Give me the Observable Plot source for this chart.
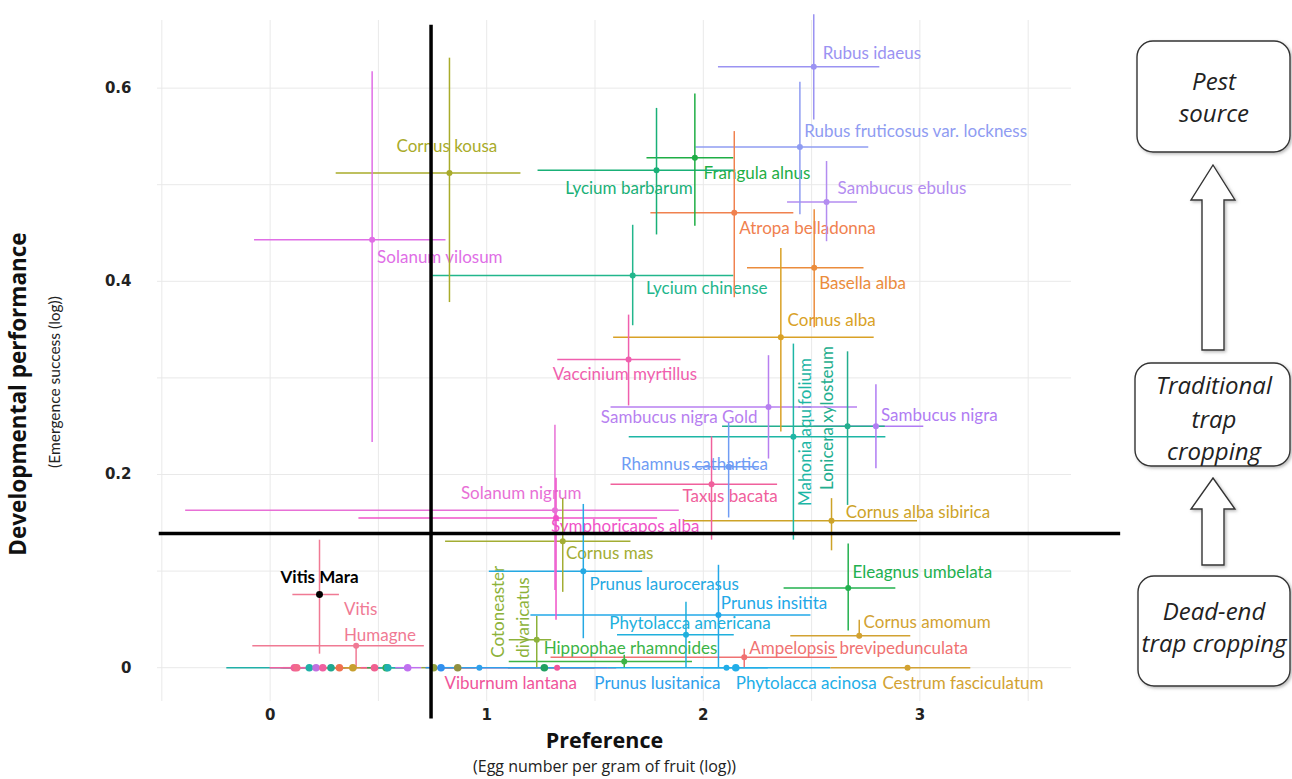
<!DOCTYPE html>
<html><head><meta charset="utf-8">
<script src="https://cdn.jsdelivr.net/npm/d3@7"></script>
<script src="https://cdn.jsdelivr.net/npm/@observablehq/plot@0.6"></script>
<style>
html,body{margin:0;padding:0;background:#fff;}
#wrap{position:relative;width:1292px;height:779px;overflow:hidden;}
#diagram{position:absolute;left:0;top:0;pointer-events:none;}
</style></head><body><div id="wrap"></div>
<script>
// ---------------- DATA ----------------
const species = [
  "Rubus idaeus","Rubus fruticosus var. lockness","Sambucus ebulus","Frangula alnus","Lycium barbarum",
  "Atropa belladonna","Basella alba","Lycium chinense","Cornus kousa","Solanum vilosum",
  "Cornus alba","Vaccinium myrtillus","Sambucus nigra Gold","Sambucus nigra","Lonicera xylosteum",
  "Mahonia aquifolium","Rhamnus cathartica","Taxus bacata","Solanum nigrum","Symphoricapos alba",
  "Cornus alba sibirica","Cornus mas","Eleagnus umbelata","Prunus laurocerasus","Cotoneaster divaricatus",
  "Prunus insitita","Phytolacca americana","Cornus amomum","Hippophae rhamnoides","Ampelopsis brevipedunculata",
  "Vitis Mara","Vitis Humagne","Viburnum lantana","Prunus lusitanica","Phytolacca acinosa","Cestrum fasciculatum"
];
// Preference (egg number per gram of fruit, log): mean, lower, upper
const prefMean = [2.51,2.446,2.569,1.961,1.784, 2.143,2.512,1.674,0.828,0.471, 2.358,1.655,2.301,2.797,2.666, 2.416,2.117,2.038,1.315,1.32, 2.592,1.351,2.669,1.446,1.231, 2.07,1.92,2.72,1.635,2.189, 0.228,0.397,1.325,0.966,2.107,2.943];
const prefLow  = [2.07,1.966,2.389,1.74,1.237, 1.758,2.204,0.751,0.305,-0.072, 1.586,1.328,1.574,2.51,2.089, 1.658,1.95,1.574,-0.39,0.41, 1.912,0.81,2.373,1.012,1.104, 1.204,1.604,2.404,1.104,1.297, 0.105,-0.08,0.75,0.8,1.56,2.589];
const prefHigh = [2.815,2.764,2.712,2.141,2.15, 2.418,2.742,2.141,1.158,0.812, 2.789,1.897,2.712,3.018,2.84, 2.843,2.26,2.343,1.889,1.789, 2.989,1.666,2.889,1.72,1.3, 2.497,2.143,2.958,1.95,2.62, 0.32,0.712,1.6,1.56,2.589,3.235];
// Developmental performance (emergence success, log): mean, lower, upper
const perfMean = [0.622,0.539,0.482,0.528,0.515, 0.471,0.414,0.406,0.512,0.443, 0.342,0.319,0.270,0.250,0.250, 0.239,0.208,0.190,0.163,0.155, 0.152,0.131,0.0826,0.0998,0.029, 0.0546,0.034,0.033,0.0065,0.0107, 0.0757,0.0228,0,0,0,0];
const perfLow  = [0.567,0.469,0.441,0.457,0.448, 0.383,0.352,0.354,0.378,0.233, 0.244,0.271,0.216,0.206,0.168, 0.132,0.155,0.132,0.08,0.049, 0.121,0.078,0.038,0.030,0.0, 0.0,0.0,0.030,0.0,0.0, 0.014,0.0,0,0,0,0];
const perfHigh = [0.676,0.606,0.524,0.594,0.579, 0.555,0.474,0.458,0.631,0.617, 0.434,0.365,0.323,0.293,0.327, 0.335,0.253,0.239,0.251,0.196, 0.175,0.175,0.128,0.169,0.053, 0.106,0.0677,0.049,0.013,0.019, 0.132,0.0228,0,0,0,0];
const speciesColors = [
  "#9b93f2","#8f9cf2","#b38cf0","#1fae45","#19b077",
  "#f0814f","#eb8c3c","#22b68c","#a9ab2a","#e06ee6",
  "#d9a126","#f05fae","#b77ff0","#b07cf3","#23ae8e",
  "#1db6a5","#6f9cf4","#f0609c","#e870d6","#f052c8",
  "#cda328","#a3ad33","#22b04e","#25a9e3","#8db23a",
  "#22a8e8","#20b0dd","#d2a232","#3cb446","#f07272",
  "#000000","#f07a94","#f0559a","#2ea0ec","#22aee8","#d2a232"
];
const barColors = speciesColors.map((c, i) => species[i] === "Vitis Mara" ? "#f07a94" : c);

// Unlabelled host plants with no emergence (performance = 0)
const zeroPref  = [0.112,0.123,0.181,0.212,0.243,0.281,0.32,0.382,0.482,0.536,0.543,0.635,0.755,0.789,0.866,1.266,2.15];
const zeroLow   = [0.05,0.06,-0.2,0.15,0.0,0.2,0.25,0.3,0.42,0.45,0.47,0.58,0.7,0.72,0.8,1.1,2.0];
const zeroHigh  = [0.2,0.2,0.26,0.27,0.55,0.35,0.4,0.45,0.55,0.62,0.62,0.7,0.8,0.86,0.95,1.5,2.3];
const zeroColors = ["#f0609a","#f26a8c","#20b0a8","#c070e0","#f060a0","#20a890","#f07050","#c8a030","#f06090","#30b050","#20b0b0","#c070f0","#90a040","#3090f0","#909040","#20a060","#22aee8"];

// thresholds separating the quadrants
const prefThreshold = 0.743, perfThreshold = 0.139;
const prefLineExtent = [-0.512, 3.927], perfLineExtent = [-0.053, 0.665];

const xTicks = [0, 1, 2, 3];
const yTicks = [0, 0.2, 0.4, 0.6];
const xGrid = [-0.5, 0, 0.5, 1, 1.5, 2, 2.5, 3, 3.5];
const yGrid = [0, 0.1, 0.2, 0.3, 0.4, 0.5, 0.6];

// label layout (data coordinates of each label)
const labelLayout = [
  ["Rubus idaeus", 2.551, 0.636, "start"],
  ["Rubus fruticosus var. lockness", 2.466, 0.555, "start"],
  ["Sambucus ebulus", 2.62, 0.496, "start"],
  ["Frangula alnus", 2.001, 0.512, "start"],
  ["Lycium barbarum", 1.951, 0.496, "end"],
  ["Atropa belladonna", 2.166, 0.455, "start"],
  ["Basella alba", 2.535, 0.398, "start"],
  ["Lycium chinense", 1.735, 0.392, "start"],
  ["Cornus kousa", 0.816, 0.539, "middle"],
  ["Solanum vilosum", 0.494, 0.425, "start"],
  ["Cornus alba", 2.389, 0.359, "start"],
  ["Vaccinium myrtillus", 1.638, 0.303, "middle"],
  ["Sambucus nigra Gold", 1.527, 0.259, "start"],
  ["Sambucus nigra", 2.82, 0.261, "start"],
  ["Lonicera xylosteum", 2.574, 0.2585, "vmiddle"],
  ["Mahonia aquifolium", 2.473, 0.244, "vmiddle"],
  ["Rhamnus cathartica", 1.62, 0.21, "start"],
  ["Taxus bacata", 1.904, 0.177, "start"],
  ["Solanum nigrum", 0.881, 0.18, "start"],
  ["Symphoricapos alba", 1.297, 0.146, "start"],
  ["Cornus alba sibirica", 2.658, 0.161, "start"],
  ["Cornus mas", 1.366, 0.118, "start"],
  ["Eleagnus umbelata", 2.689, 0.099, "start"],
  ["Prunus laurocerasus", 1.474, 0.086, "start"],
  ["Cotoneaster divaricatus", 1.1, 0.0104, "vstart2"],
  ["Prunus insitita", 2.081, 0.0667, "start"],
  ["Phytolacca americana", 1.566, 0.0453, "start"],
  ["Cornus amomum", 2.74, 0.047, "start"],
  ["Hippophae rhamnoides", 1.263, 0.02, "start"],
  ["Ampelopsis brevipedunculata", 2.212, 0.02, "start"],
  ["Vitis Mara", 0.228, 0.0936, "bold"],
  ["Vitis Humagne", 0.341, 0.0497, "start2"],
  ["Viburnum lantana", 0.805, -0.0169, "start"],
  ["Prunus lusitanica", 1.497, -0.0163, "start"],
  ["Phytolacca acinosa", 2.15, -0.0163, "start"],
  ["Cestrum fasciculatum", 2.827, -0.0163, "start"]
];

// ---------------- BUILD ----------------
const rows = species.map((name, i) => ({
  name, x: prefMean[i], xlo: prefLow[i], xhi: prefHigh[i],
  y: perfMean[i], ylo: perfLow[i], yhi: perfHigh[i],
  color: speciesColors[i], bar: barColors[i]
}));
const zeros = zeroPref.map((x, i) => ({x, xlo: zeroLow[i], xhi: zeroHigh[i], y: 0, color: zeroColors[i]}));
const colorOf = Object.fromEntries(rows.map(d => [d.name, d.color]));
const labels = labelLayout.map(([name, lx, ly, kind]) => ({
  name, lx, ly, kind, color: colorOf[name],
  text: name === "Cotoneaster divaricatus" ? "Cotoneaster\ndivaricatus" : name === "Vitis Humagne" ? "Vitis\nHumagne" : name
}));
const LF = "Lato, 'Open Sans', sans-serif";
const TF = "'Open Sans', sans-serif";
const LS = 17;
const lab = (kind, opts) => Plot.text(labels.filter(d => d.kind === kind), {
  x: "lx", y: "ly", text: "text", fill: "color", fontSize: LS, fontFamily: LF, ...opts
});

const chart = Plot.plot({
  width: 1292, height: 779,
  marginLeft: 157, marginRight: 221, marginTop: 20, marginBottom: 78,
  style: {background: "white", color: "#222", overflow: "visible"},
  x: {domain: [-0.52, 3.7]},
  y: {domain: [-0.035, 0.67]},
  color: {type: "identity"},
  marks: [
    Plot.gridX(xGrid, {stroke: "#e9e9e9", strokeOpacity: 1}),
    Plot.gridY(yGrid, {stroke: "#e9e9e9", strokeOpacity: 1}),
    Plot.axisX(xTicks, {tickSize: 0, tickPadding: 8, fontSize: 15, fontWeight: "bold", fontFamily: "DejaVu Sans", label: null, tickFormat: d => String(d)}),
    Plot.axisY(yTicks, {tickSize: 0, tickPadding: 26, fontSize: 15, fontWeight: "bold", fontFamily: "DejaVu Sans", label: null, tickFormat: d => String(d)}),
    // labels
    lab("start", {textAnchor: "start"}),
    lab("middle", {textAnchor: "middle"}),
    lab("end", {textAnchor: "end"}),
    lab("vmiddle", {textAnchor: "middle", rotate: -90}),
    lab("vstart2", {textAnchor: "start", rotate: -90, lineHeight: 1.5}),
    lab("start2", {textAnchor: "start", lineHeight: 1.5}),
    Plot.text(labels.filter(d => d.kind === "bold"), {x: "lx", y: "ly", text: "text", fill: "#000", fontWeight: "bold", fontSize: LS, fontFamily: LF}),
    // error bars
    Plot.ruleY(zeros, {y: "y", x1: "xlo", x2: "xhi", stroke: "color", strokeWidth: 1.5}),
    Plot.ruleY(rows, {y: "y", x1: "xlo", x2: "xhi", stroke: "bar", strokeWidth: 1.5}),
    Plot.ruleX(rows.filter(d => d.yhi > d.ylo), {x: "x", y1: "ylo", y2: "yhi", stroke: "bar", strokeWidth: 1.5}),
    // points
    Plot.dot(zeros, {x: "x", y: "y", fill: "color", r: 3.8}),
    Plot.dot(rows, {x: "x", y: "y", fill: "color", r: d => d.name === "Vitis Mara" ? 4.8 : 3.6}),
    // quadrant thresholds
    Plot.ruleX([prefThreshold], {y1: perfLineExtent[0], y2: perfLineExtent[1], stroke: "#000", strokeWidth: 3.5}),
    Plot.ruleY([perfThreshold], {x1: prefLineExtent[0], x2: prefLineExtent[1], stroke: "#000", strokeWidth: 3.5}),
    // axis titles
    Plot.text(["Preference"], {frameAnchor: "bottom", lineAnchor: "middle", dx: -10, dy: 40, fontSize: 21.5, fontWeight: "bold", fontFamily: TF, fill: "#111"}),
    Plot.text(["(Egg number per gram of fruit (log))"], {frameAnchor: "bottom", lineAnchor: "middle", dx: -10, dy: 65, fontSize: 16, fontFamily: TF, fill: "#222"}),
    Plot.text(["Developmental performance"], {frameAnchor: "left", textAnchor: "middle", lineAnchor: "middle", dx: -139, dy: 33, rotate: -90, fontSize: 22.5, fontWeight: "bold", fontFamily: TF, fill: "#111"}),
    Plot.text(["(Emergence success (log))"], {frameAnchor: "left", textAnchor: "middle", lineAnchor: "middle", dx: -102, dy: 21, rotate: -90, fontSize: 15.5, fontFamily: LF, fill: "#222"})
  ]
});
document.getElementById("wrap").appendChild(chart);

// ---------------- DIAGRAM (right side) ----------------
const svg = d3.select("#wrap").append("svg").attr("id", "diagram").attr("width", 1292).attr("height", 779);
const defs = svg.append("defs");
const f = defs.append("filter").attr("id", "sh").attr("x", "-10%").attr("y", "-10%").attr("width", "130%").attr("height", "130%");
f.append("feDropShadow").attr("dx", 1.5).attr("dy", 1.5).attr("stdDeviation", 1.5).attr("flood-color", "#888").attr("flood-opacity", 0.6);
const boxes = [
  {x: 1137, y: 41, w: 153, h: 111, lines: ["Pest", "source"], ys: [90, 122]},
  {x: 1135, y: 363, w: 155, h: 103, lines: ["Traditional", "trap", "cropping"], ys: [394, 428, 460]},
  {x: 1138, y: 576, w: 152, h: 110, lines: ["Dead-end", "trap cropping"], ys: [620, 652]}
];
const arrows = [{tip: 165, base: 200, bottom: 350}, {tip: 478, base: 509, bottom: 565}];
const cx = 1213;
arrows.forEach(a => {
  const pts = [[cx, a.tip], [cx + 22, a.base], [cx + 11, a.base], [cx + 11, a.bottom], [cx - 11, a.bottom], [cx - 11, a.base], [cx - 22, a.base]];
  svg.append("polygon").attr("points", pts.map(p => p.join(",")).join(" "))
    .attr("fill", "#fff").attr("stroke", "#333").attr("stroke-width", 1.4).attr("filter", "url(#sh)");
});
boxes.forEach(b => {
  svg.append("rect").attr("x", b.x).attr("y", b.y).attr("width", b.w).attr("height", b.h)
    .attr("rx", 16).attr("fill", "#fff").attr("stroke", "#333").attr("stroke-width", 1.4).attr("filter", "url(#sh)");
  b.lines.forEach((t, i) => svg.append("text").attr("x", cx + 1).attr("y", b.ys[i]).attr("text-anchor", "middle")
    .attr("font-family", "'Open Sans', sans-serif").attr("font-style", "italic").attr("font-size", 24).attr("fill", "#222").text(t));
});
</script>
</body></html>
